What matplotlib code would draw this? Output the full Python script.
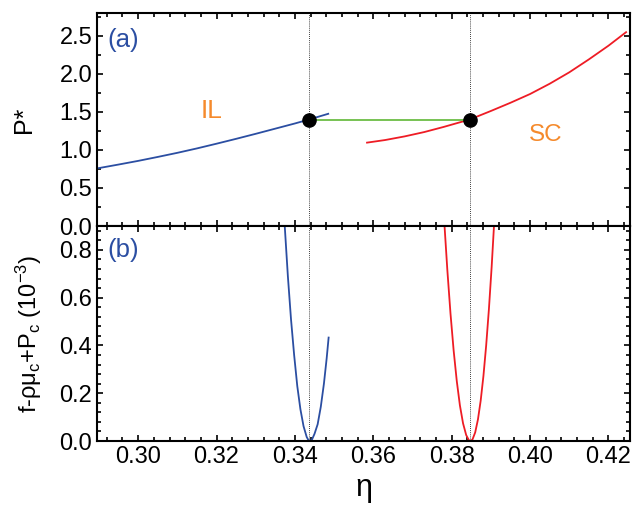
import matplotlib
matplotlib.use("Agg")
import matplotlib.pyplot as plt
from matplotlib.ticker import MultipleLocator

plt.rcParams["font.family"] = ["Liberation Sans", "DejaVu Sans"]
plt.rcParams["mathtext.default"] = "regular"

# --- data ---
# (a) pressure branches
il_eta = [0.2893, 0.2950, 0.3000, 0.3050, 0.3100, 0.3150, 0.3200, 0.3250, 0.3300,
          0.3350, 0.3400, 0.3436, 0.3485]
il_p = [0.755, 0.808, 0.856, 0.908, 0.962, 1.020, 1.082, 1.146, 1.212,
        1.280, 1.348, 1.400, 1.475]
sc_eta = [0.3584, 0.3630, 0.3680, 0.3730, 0.3780, 0.3846, 0.3900, 0.3950, 0.4000,
          0.4050, 0.4100, 0.4150, 0.4200, 0.4245]
sc_p = [1.096, 1.130, 1.178, 1.235, 1.303, 1.400, 1.512, 1.620, 1.735,
        1.870, 2.020, 2.190, 2.370, 2.548]

# coexistence
eta_il = 0.3436
eta_sc = 0.3846
p_coex = 1.40

# (b) f - rho*mu_c + P_c (1e-3)
il_eta_b = [0.3374, 0.3382, 0.3390, 0.3398, 0.3406, 0.3414, 0.3422, 0.3430, 0.3434,
            0.3438, 0.3443, 0.3450, 0.3458, 0.3466, 0.3474, 0.3481, 0.3486]
il_f = [0.90, 0.69, 0.51, 0.36, 0.23, 0.133, 0.062, 0.017, 0.005,
        0.0, 0.004, 0.030, 0.070, 0.143, 0.240, 0.346, 0.433]
sc_eta_b = [0.3781, 0.3789, 0.3797, 0.3805, 0.3813, 0.3821, 0.3829, 0.3837, 0.3844,
            0.3848, 0.3853, 0.3860, 0.3867, 0.3874, 0.3881, 0.3888, 0.3895, 0.3902, 0.3909]
sc_f = [0.92, 0.714, 0.533, 0.379, 0.251, 0.149, 0.074, 0.025, 0.003,
        0.0, 0.006, 0.036, 0.090, 0.169, 0.272, 0.400, 0.552, 0.729, 0.93]

blue = "#2b4ea2"
red = "#ee1c25"
green = "#6cbd45"
orange = "#f58a2c"

fig = plt.figure(figsize=(6.37, 5.14), dpi=100)
ax_a = fig.add_axes([0.1523, 0.5603, 0.8367, 0.4144])
ax_b = fig.add_axes([0.1523, 0.1420, 0.8367, 0.4183], sharex=ax_a)

ax_a.plot(il_eta, il_p, color=blue, lw=1.3)
ax_a.plot(sc_eta, sc_p, color=red, lw=1.3)
ax_a.plot([eta_il, eta_sc], [p_coex, p_coex], color=green, lw=1.3)
ax_a.plot([eta_il, eta_sc], [p_coex, p_coex], "o", color="black", ms=9.5, zorder=5)

ax_b.plot(il_eta_b, il_f, color=blue, lw=1.3)
ax_b.plot(sc_eta_b, sc_f, color=red, lw=1.3)

for ax in (ax_a, ax_b):
    for e in (eta_il, eta_sc):
        ax.axvline(e, color="black", lw=0.6, ls=(0, (1, 1.5)), zorder=0)
    ax.tick_params(which="both", direction="in", top=True, right=True,
                   labelsize=17, width=1.2)
    ax.tick_params(which="major", length=4.5)
    ax.tick_params(which="minor", length=2.6)
    for s in ax.spines.values():
        s.set_linewidth(1.5)

ax_a.set_xlim(0.2895, 0.4255)
ax_a.xaxis.set_major_locator(MultipleLocator(0.02))
ax_a.xaxis.set_minor_locator(MultipleLocator(0.004))
ax_a.xaxis.set_major_formatter(plt.FormatStrFormatter("%.2f"))
ax_a.tick_params(labelbottom=False)

ax_a.set_ylim(0, 2.8)
ax_a.yaxis.set_major_locator(MultipleLocator(0.5))
ax_a.yaxis.set_minor_locator(MultipleLocator(0.25))
ax_a.yaxis.set_major_formatter(plt.FormatStrFormatter("%.1f"))

ax_b.set_ylim(0, 0.9)
ax_b.yaxis.set_major_locator(MultipleLocator(0.2))
ax_b.yaxis.set_minor_locator(MultipleLocator(0.04))
ax_b.yaxis.set_major_formatter(plt.FormatStrFormatter("%.1f"))

ax_a.set_ylabel("P*", fontsize=18)
ax_a.yaxis.set_label_coords(-0.115, 0.5)
ax_b.set_ylabel("f-ρμ$_c$+P$_c$ (10$^{-3}$)", fontsize=17)
ax_b.yaxis.set_label_coords(-0.10, 0.5)
ax_b.set_xlabel("η", fontsize=22)

ax_a.text(0.02, 0.873, "(a)", transform=ax_a.transAxes, color=blue,
          fontsize=18.5, ha="left", va="center")
ax_b.text(0.02, 0.888, "(b)", transform=ax_b.transAxes, color=blue,
          fontsize=18.5, ha="left", va="center")
ax_a.text(0.3187, 1.517, "IL", color=orange, fontsize=19, ha="center", va="center")
ax_a.text(0.4041, 1.196, "SC", color=orange, fontsize=17.5, ha="center", va="center")

fig.savefig("out.png", dpi=100)
